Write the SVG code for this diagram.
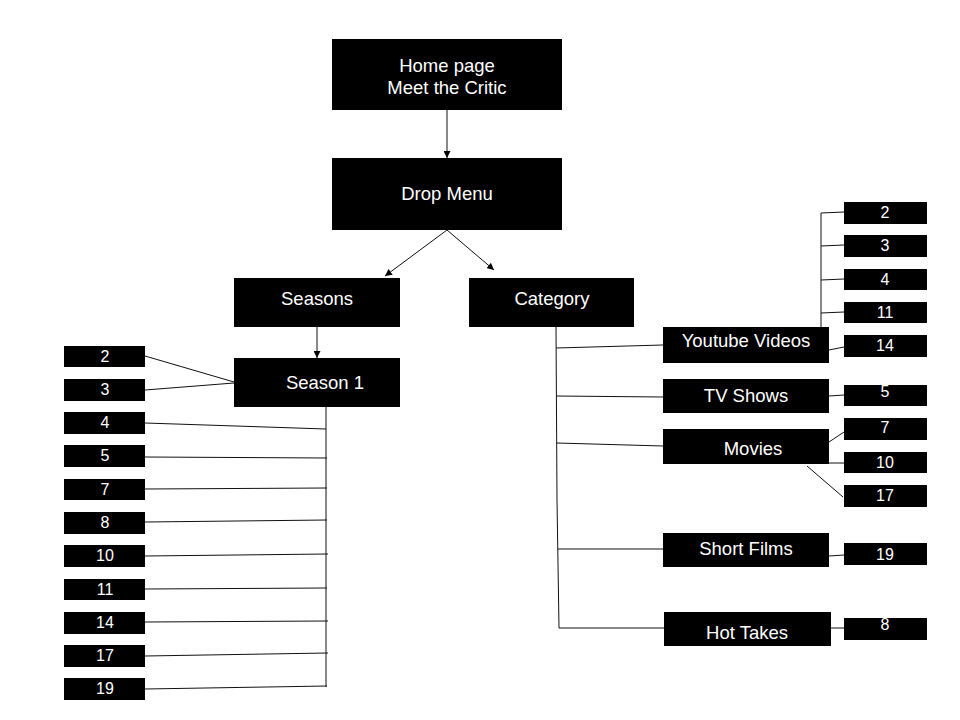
<svg xmlns="http://www.w3.org/2000/svg" width="960" height="720" viewBox="0 0 960 720">
<style>
.box{fill:#000}
.t{font-family:"Liberation Sans",Arial,sans-serif;font-size:18.5px;fill:#fff;text-anchor:middle}
.n{font-family:"Liberation Sans",Arial,sans-serif;font-size:16px;fill:#fff;text-anchor:middle}
.c line,.c polyline{stroke:#111;stroke-width:1;fill:none}
</style>
<defs>
<marker id="ah" viewBox="0 0 10 10" refX="10" refY="5" markerWidth="7" markerHeight="7" orient="auto" markerUnits="userSpaceOnUse">
<path d="M0,0 L10,5 L0,10 z" fill="#000"/>
</marker>
</defs>
<rect width="960" height="720" fill="#fff"/>
<g class="c" id="connectors">
<line x1="447" y1="110" x2="447" y2="158" marker-end="url(#ah)"/>
<line x1="447" y1="230" x2="385" y2="276" marker-end="url(#ah)"/>
<line x1="447" y1="230" x2="494" y2="270" marker-end="url(#ah)"/>
<line x1="317" y1="327" x2="317" y2="358" marker-end="url(#ah)"/>
<line x1="145" y1="356" x2="234" y2="382"/>
<line x1="145" y1="390" x2="234" y2="383"/>
<line x1="326" y1="407" x2="326" y2="687"/>
<line x1="145" y1="423" x2="326" y2="429"/>
<line x1="145" y1="457" x2="327" y2="458"/>
<line x1="145" y1="489" x2="327" y2="488"/>
<line x1="145" y1="522" x2="327" y2="520"/>
<line x1="145" y1="556" x2="328" y2="554"/>
<line x1="145" y1="589" x2="327" y2="588"/>
<line x1="145" y1="622" x2="328" y2="621"/>
<line x1="145" y1="656" x2="328" y2="653"/>
<line x1="145" y1="689" x2="327" y2="686"/>
<polyline points="556,327 557,500 559,628"/>
<line x1="556" y1="348" x2="663" y2="345"/>
<line x1="556" y1="396" x2="663" y2="397"/>
<line x1="557" y1="443" x2="663" y2="446"/>
<line x1="558" y1="549" x2="663" y2="549"/>
<line x1="559" y1="628" x2="664" y2="628"/>
<line x1="821" y1="213" x2="821" y2="328"/>
<line x1="821" y1="213" x2="844" y2="212"/>
<line x1="821" y1="246" x2="844" y2="245"/>
<line x1="821" y1="280" x2="844" y2="279"/>
<line x1="821" y1="313" x2="844" y2="312"/>
<line x1="829" y1="350" x2="844" y2="347"/>
<line x1="829" y1="396" x2="844" y2="395"/>
<line x1="829" y1="442" x2="844" y2="432"/>
<line x1="829" y1="463" x2="844" y2="463"/>
<line x1="807" y1="466" x2="843" y2="497"/>
<line x1="829" y1="556" x2="844" y2="555"/>
<line x1="831" y1="628" x2="844" y2="628"/>
</g>
<g id="home"><rect class="box" x="332" y="39" width="230" height="71"/><text class="t" x="447" y="72">Home page</text><text class="t" x="447" y="94">Meet the Critic</text></g>
<g id="dropmenu"><rect class="box" x="332" y="158" width="230" height="72"/><text class="t" x="447" y="200">Drop Menu</text></g>
<g id="seasons"><rect class="box" x="234" y="278" width="166" height="49"/><text class="t" x="317" y="305">Seasons</text></g>
<g id="category"><rect class="box" x="469" y="278" width="165" height="49"/><text class="t" x="552" y="305">Category</text></g>
<g id="season1"><rect class="box" x="234" y="358" width="166" height="49"/><text class="t" x="325" y="389">Season 1</text></g>
<g id="s-2"><rect class="box" x="64" y="346" width="81" height="21"/><text class="n" x="105" y="362">2</text></g>
<g id="s-3"><rect class="box" x="64" y="379" width="81" height="22"/><text class="n" x="105" y="395">3</text></g>
<g id="s-4"><rect class="box" x="64" y="412" width="81" height="22"/><text class="n" x="105" y="428">4</text></g>
<g id="s-5"><rect class="box" x="64" y="445" width="81" height="22"/><text class="n" x="105" y="461">5</text></g>
<g id="s-7"><rect class="box" x="64" y="479" width="81" height="21"/><text class="n" x="105" y="495">7</text></g>
<g id="s-8"><rect class="box" x="64" y="512" width="81" height="22"/><text class="n" x="105" y="528">8</text></g>
<g id="s-10"><rect class="box" x="64" y="545" width="81" height="22"/><text class="n" x="105" y="561">10</text></g>
<g id="s-11"><rect class="box" x="64" y="579" width="81" height="21"/><text class="n" x="105" y="595">11</text></g>
<g id="s-14"><rect class="box" x="64" y="612" width="81" height="22"/><text class="n" x="105" y="628">14</text></g>
<g id="s-17"><rect class="box" x="64" y="645" width="81" height="22"/><text class="n" x="105" y="661">17</text></g>
<g id="s-19"><rect class="box" x="64" y="678" width="81" height="22"/><text class="n" x="105" y="694">19</text></g>
<g id="youtube"><rect class="box" x="663" y="327" width="166" height="36"/><text class="t" x="746" y="347">Youtube Videos</text></g>
<g id="tvshows"><rect class="box" x="663" y="379" width="166" height="34"/><text class="t" x="746" y="402">TV Shows</text></g>
<g id="movies"><rect class="box" x="663" y="429" width="166" height="35"/><text class="t" x="753" y="455">Movies</text></g>
<g id="shortfilms"><rect class="box" x="663" y="533" width="166" height="34"/><text class="t" x="746" y="555">Short Films</text></g>
<g id="hottakes"><rect class="box" x="664" y="612" width="167" height="34"/><text class="t" x="747" y="639">Hot Takes</text></g>
<g id="y-2"><rect class="box" x="844" y="202" width="83" height="22"/><text class="n" x="885" y="218">2</text></g>
<g id="y-3"><rect class="box" x="844" y="235" width="83" height="22"/><text class="n" x="885" y="251">3</text></g>
<g id="y-4"><rect class="box" x="844" y="269" width="83" height="21"/><text class="n" x="885" y="285">4</text></g>
<g id="y-11"><rect class="box" x="844" y="302" width="83" height="21"/><text class="n" x="885" y="318">11</text></g>
<g id="y-14"><rect class="box" x="844" y="335" width="83" height="22"/><text class="n" x="885" y="351">14</text></g>
<g id="tv-5"><rect class="box" x="844" y="385" width="83" height="21"/><text class="n" x="885" y="397">5</text></g>
<g id="m-7"><rect class="box" x="844" y="418" width="83" height="22"/><text class="n" x="885" y="433">7</text></g>
<g id="m-10"><rect class="box" x="844" y="452" width="83" height="21"/><text class="n" x="885" y="468">10</text></g>
<g id="m-17"><rect class="box" x="844" y="485" width="83" height="22"/><text class="n" x="885" y="501">17</text></g>
<g id="sf-19"><rect class="box" x="844" y="543" width="83" height="22"/><text class="n" x="885" y="560">19</text></g>
<g id="ht-8"><rect class="box" x="844" y="618" width="83" height="22"/><text class="n" x="885" y="630">8</text></g>
</svg>
